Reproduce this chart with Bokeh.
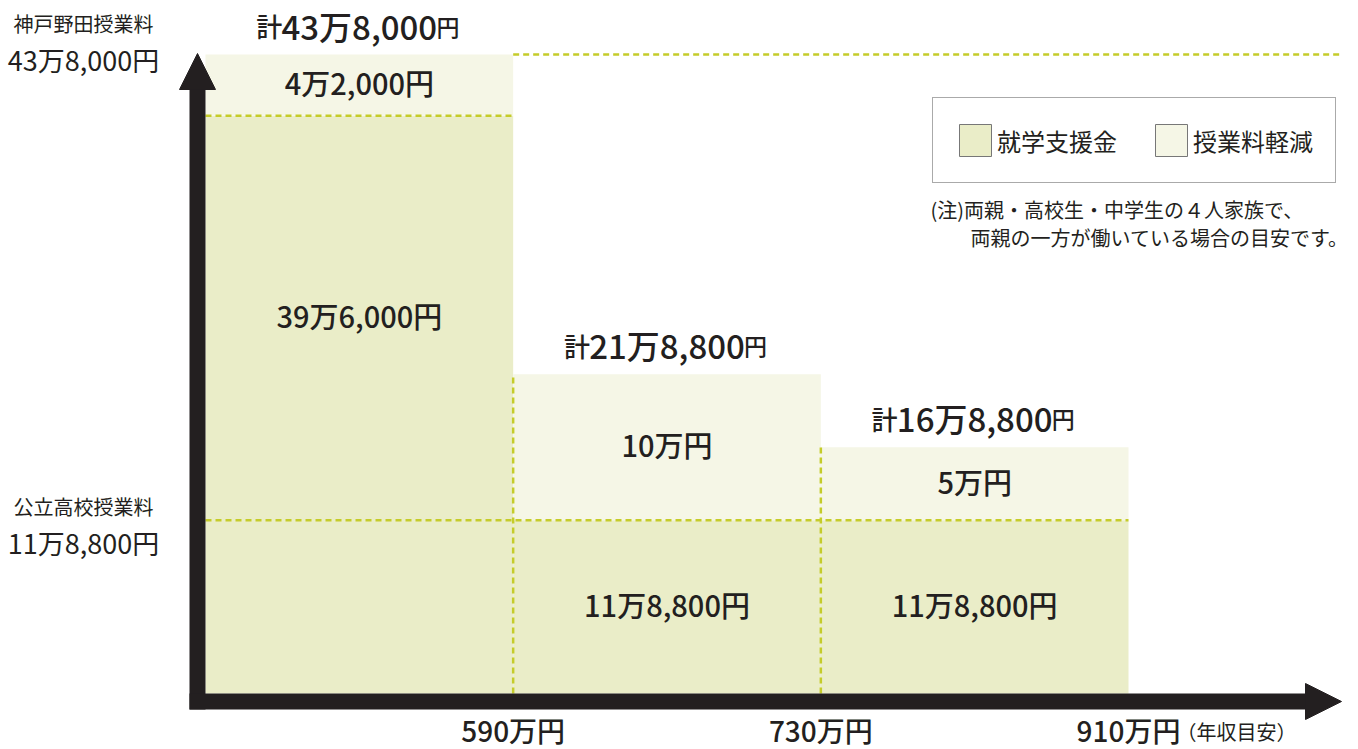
from bokeh.plotting import figure
from bokeh.models import Range1d, Arrow, NormalHead, Legend, LegendItem, ColumnDataSource
from bokeh.core.properties import value
from bokeh.embed import file_html
from bokeh.resources import INLINE

# ---------------- data ----------------
incomes = ["590万円", "730万円", "910万円"]          # annual income thresholds (x tick labels)
support_yen = [396000, 118800, 118800]               # 就学支援金
reduction_yen = [42000, 100000, 50000]               # 授業料軽減
public_tuition_yen = 118800                          # 公立高校授業料
kobe_tuition_yen = 438000                            # 神戸野田授業料
series_names = ["就学支援金", "授業料軽減"]
ref_names = ["神戸野田授業料", "公立高校授業料"]
ref_values_yen = [kobe_tuition_yen, public_tuition_yen]
note_lines = ["(注)両親・高校生・中学生の４人家族で、", "両親の一方が働いている場合の目安です。"]
unit_note = "（年収目安）"

# ---------------- styles ----------------
W, H = 1358, 749
DARK = "#eaedc8"
LIGHT = "#f5f6e6"
DASH = "#c5cc2a"
INK = "#231f20"
FONT = "Noto Sans CJK JP"
FONT_M = "Noto Sans CJK JP Medium"

def man(yen):
    return yen / 10000.0

def fmt(yen, unit="円"):
    m, r = divmod(int(yen), 10000)
    return (f"{m}万{r:,}" if r else f"{m}万") + unit

def est_w(s, size):
    w = 0.0
    for ch in s:
        if ch.isdigit():
            w += 0.56
        elif ch == ",":
            w += 0.25
        else:
            w += 1.0
    return w * size

# pixel geometry -> ranges
X0_PX, X3_PX = 205, 1128
Y0_PX, YTOP_PX = 693, 54
ux = (X3_PX - X0_PX) / 3.0
uy = (Y0_PX - YTOP_PX) / man(kobe_tuition_yen)

p = figure(width=W, height=H, output_backend="svg", toolbar_location=None,
           x_range=Range1d(-X0_PX / ux, (W - X0_PX) / ux),
           y_range=Range1d(-(H - Y0_PX) / uy, Y0_PX / uy),
           x_axis_location=None, y_axis_location=None,
           min_border=0, outline_line_color=None)
p.grid.visible = False
p.background_fill_color = "white"
p.border_fill_color = "white"

n = len(incomes)
idx = list(range(n))
sup = [man(v) for v in support_yen]
red = [man(v) for v in reduction_yen]
tot = [s + r for s, r in zip(sup, red)]
pub = man(public_tuition_yen)

TOT_NUM = 33
tot_num = [fmt(s + r, unit="") for s, r in zip(support_yen, reduction_yen)]
half = [est_w(t, TOT_NUM) / 2 for t in tot_num]

src = ColumnDataSource(dict(
    left=idx, right=[i + 1 for i in idx], sup=sup, tot=tot, mid=[i + 0.5 for i in idx],
    sup_lab=[fmt(v) for v in support_yen],
    red_lab=[fmt(v) for v in reduction_yen],
    tot_num=tot_num,
    kei=["計"] * n, yen=["円"] * n,
    kei_off=[-h - 1 for h in half], yen_off=[h + 1 for h in half],
    sup_y=[((pub + s) / 2 if s > pub else s / 2) for s in sup],
    red_y=[(s + t) / 2 for s, t in zip(sup, tot)],
))

p.quad(left="left", right="right", bottom=0, top="sup", source=src,
       fill_color=DARK, line_color=None)
p.quad(left="left", right="right", bottom="sup", top="tot", source=src,
       fill_color=LIGHT, line_color=None)

# dashed guide lines
seg_x0 = [0, 0, 1, 2, 1]
seg_x1 = [1, n, 1, 2, (W - 18 - X0_PX) / ux]
seg_y0 = [sup[0], pub, 0, 0, tot[0]]
seg_y1 = [sup[0], pub, tot[1], tot[2], tot[0]]
p.segment(x0=seg_x0, y0=seg_y0, x1=seg_x1, y1=seg_y1,
          line_color=DASH, line_width=2.5, line_dash="6 4")

# axes as thick arrows
AX_W = 16
ax_x = -(AX_W / 2) / ux
ax_y = -(AX_W / 2) / uy
p.add_layout(Arrow(end=NormalHead(size=36, fill_color=INK, line_color=INK, line_width=1),
                   x_start=ax_x, y_start=-AX_W / uy, x_end=ax_x, y_end=(Y0_PX - 53) / uy,
                   line_color=INK, line_width=AX_W))
p.add_layout(Arrow(end=NormalHead(size=36, fill_color=INK, line_color=INK, line_width=1),
                   x_start=-AX_W / ux, y_start=ax_y, x_end=(1341 - X0_PX) / ux, y_end=ax_y,
                   line_color=INK, line_width=AX_W))

# value labels
common = dict(text_color=INK, text_baseline="middle")
p.text(x="mid", y="sup_y", text="sup_lab", source=src, text_font=value(FONT_M),
       text_font_size="29px", text_align="center", y_offset=-3, **common)
p.text(x="mid", y="red_y", text="red_lab", source=src, text_font=value(FONT_M),
       text_font_size="29px", text_align="center", y_offset=-3, **common)
# totals: 計 + number + 円 with different sizes on one baseline
tcommon = dict(text_color=INK, text_baseline="alphabetic", y_offset=-29)
p.text(x="mid", y="tot", text="tot_num", source=src, text_font=value(FONT_M),
       text_font_size=f"{TOT_NUM}px", text_align="center", **tcommon)
p.text(x="mid", y="tot", text="kei", source=src, text_font=value(FONT_M),
       text_font_size="26px", text_align="right", x_offset="kei_off", **tcommon)
p.text(x="mid", y="tot", text="yen", source=src, text_font=value(FONT_M),
       text_font_size="23px", text_align="left", x_offset="yen_off", **tcommon)

# income tick labels
p.text(x=[i + 1 for i in idx], y=[0] * n, text=incomes, text_font=value(FONT_M),
       text_font_size="28px", text_align="center", y_offset=36, **common)
p.text(x=[n], y=[0], text=[unit_note], text_font=value(FONT), text_font_size="20px",
       text_align="left", x_offset=48, y_offset=38, **common)

# reference labels on the left
LX = (83 - X0_PX) / ux
name_off = [-31, -14]
num_off = [5, 22]
for nm, v, a, b in zip(ref_names, ref_values_yen, name_off, num_off):
    p.text(x=[LX], y=[man(v)], text=[nm], text_font=value(FONT), text_font_size="20px",
           text_align="center", y_offset=a, **common)
    p.text(x=[LX], y=[man(v)], text=[fmt(v)], text_font=value(FONT), text_font_size="27px",
           text_align="center", y_offset=b, **common)

# legend (hidden copies of the bars give the swatches an outline)
r1 = p.quad(left="left", right="right", bottom=0, top="sup", source=src,
            fill_color=DARK, line_color="#777", line_width=1, visible=False)
r2 = p.quad(left="left", right="right", bottom="sup", top="tot", source=src,
            fill_color=LIGHT, line_color="#777", line_width=1, visible=False)
legend = Legend(items=[LegendItem(label=series_names[0], renderers=[r1]),
                       LegendItem(label=series_names[1], renderers=[r2])],
                orientation="horizontal", location=(932, H - 183),
                border_line_color="#555", border_line_width=1, padding=22, spacing=34,
                label_standoff=2, glyph_width=40, glyph_height=40, margin=0,
                label_text_font=FONT, label_text_font_size="24px", label_text_color=INK,
                background_fill_color="white", background_fill_alpha=1.0,
                inactive_fill_alpha=0.0, click_policy="none")
p.add_layout(legend)

# note
NX = [(930 - X0_PX) / ux, (970 - X0_PX) / ux]
NY = [(Y0_PX - 212) / uy, (Y0_PX - 240) / uy]
p.text(x=NX, y=NY, text=note_lines, text_font=value(FONT), text_font_size="20px",
       text_align="left", y_offset=-3, **common)

open("out.html", "w").write(file_html(p, INLINE))
